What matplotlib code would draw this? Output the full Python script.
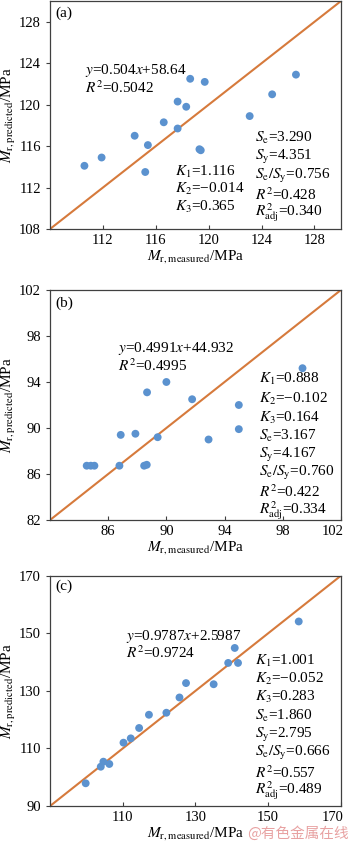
import matplotlib
matplotlib.use('Agg')
import matplotlib.pyplot as plt
from matplotlib.transforms import ScaledTranslation

plt.rcParams['font.family'] = ['Liberation Serif', 'DejaVu Serif']
plt.rcParams['mathtext.fontset'] = 'stix'

# data
a_meas = [110.6, 111.9, 114.4, 115.4, 115.2, 116.6, 117.65, 117.65, 118.3, 118.6, 119.7, 119.3, 119.4, 123.1, 124.8, 126.6]
a_pred = [114.1, 114.9, 117.0, 116.1, 113.5, 118.3, 117.7, 120.3, 119.8, 122.5, 122.2, 115.7, 115.6, 118.9, 121.0, 122.9]

b_meas = [84.52, 84.8, 85.05, 86.77, 86.86, 87.87, 88.47, 88.65, 88.67, 89.4, 90.0, 91.77, 92.9, 94.98, 94.98, 99.36]
b_pred = [86.72, 86.72, 86.72, 86.72, 89.4, 89.5, 86.72, 86.8, 93.1, 89.2, 94.0, 92.5, 89.0, 92.0, 89.9, 95.2]

c_meas = [99.8, 103.95, 104.67, 106.3, 110.2, 112.2, 114.5, 117.2, 122.0, 125.6, 127.4, 135.0, 139.0, 140.8, 141.7, 158.4]
c_pred = [97.9, 103.65, 105.4, 104.6, 112.0, 113.5, 117.1, 121.7, 122.4, 127.7, 132.7, 132.3, 139.7, 144.9, 139.7, 154.1]

a_lims = [108, 130]
b_lims = [82, 102]
c_lims = [90, 170]
a_xticks = [112, 116, 120, 124, 128]
a_yticks = [108, 112, 116, 120, 124, 128]
b_xticks = [86, 90, 94, 98, 102]
b_yticks = [82, 86, 90, 94, 98, 102]
c_xticks = [110, 130, 150, 170]
c_yticks = [90, 110, 130, 150, 170]

a_fit = ['$y$=0.504$x$+58.64', '$R^2$=0.5042']
b_fit = ['$y$=0.4991$x$+44.932', '$R^2$=0.4995']
c_fit = ['$y$=0.9787$x$+2.5987', '$R^2$=0.9724']

a_k = ['$K_1$=1.116', '$K_2$=\u22120.014', '$K_3$=0.365']
a_s = ['$S_{\\mathrm{e}}$=3.290', '$S_{\\mathrm{y}}$=4.351',
       '$S_{\\mathrm{e}}/S_{\\mathrm{y}}$=0.756', '$R^2$=0.428',
       '$R^2_{\\mathrm{adj}}$=0.340']
b_s = ['$K_1$=0.888', '$K_2$=\u22120.102', '$K_3$=0.164',
       '$S_{\\mathrm{e}}$=3.167', '$S_{\\mathrm{y}}$=4.167',
       '$S_{\\mathrm{e}}/S_{\\mathrm{y}}$=0.760', '$R^2$=0.422',
       '$R^2_{\\mathrm{adj}}$=0.334']
c_s = ['$K_1$=1.001', '$K_2$=\u22120.052', '$K_3$=0.283',
       '$S_{\\mathrm{e}}$=1.860', '$S_{\\mathrm{y}}$=2.795',
       '$S_{\\mathrm{e}}/S_{\\mathrm{y}}$=0.666', '$R^2$=0.557',
       '$R^2_{\\mathrm{adj}}$=0.489']

dot_color = '#5b92cf'
line_color = '#d67a3c'
spine_color = '#404040'

fig = plt.figure(figsize=(3.5, 8.44), dpi=100)


def panel(rect, meas, pred, lims, xt, yt, tag, fit, fit_pos, blocks):
    ax = fig.add_axes(rect)
    ax.plot(lims, lims, color=line_color, lw=1.5, zorder=2)
    ax.scatter(meas, pred, s=32, color=dot_color, edgecolors='none', zorder=3)
    ax.set_xlim(lims)
    ax.set_ylim(lims)
    ax.set_xticks(xt)
    ax.set_yticks(yt)
    ax.tick_params(axis='x', direction='in', length=3, labelsize=10.5, colors=spine_color, labelcolor='black')
    ax.tick_params(axis='y', direction='out', length=3, labelsize=10.5, colors=spine_color, labelcolor='black')
    for sp in ax.spines.values():
        sp.set_color(spine_color)
        sp.set_linewidth(0.9)
    # last x tick label sits at the right edge, nudge it left so it stays in the figure
    if xt[-1] == lims[1]:
        fig.canvas.draw()
        lab = ax.get_xticklabels()[-1]
        lab.set_transform(lab.get_transform() + ScaledTranslation(-6 / 72, 0, fig.dpi_scale_trans))
    ax.set_xlabel('$M_{\\mathrm{r,measured}}$/MPa', fontsize=11, labelpad=1)
    ax.set_ylabel('$M_{\\mathrm{r,predicted}}$/MPa', fontsize=11, labelpad=1)
    ax.text(0.017, tag[1], tag[0], transform=ax.transAxes, fontsize=11, va='center')
    ax.text(fit_pos[0], fit_pos[1], fit[0], transform=ax.transAxes, fontsize=11, va='center')
    ax.text(fit_pos[0], fit_pos[2], fit[1], transform=ax.transAxes, fontsize=11, va='center')
    for x0, ys, lines in blocks:
        for y0, s in zip(ys, lines):
            ax.text(x0, y0, s, transform=ax.transAxes, fontsize=11, va='center')
    return ax


panel([0.143, 0.7287, 0.831, 0.270], a_meas, a_pred, a_lims, a_xticks, a_yticks,
      ('(a)', 0.947), a_fit, (0.12, 0.694, 0.621),
      [(0.43, [0.251, 0.174, 0.098], a_k),
       (0.704, [0.398, 0.317, 0.234, 0.152, 0.073], a_s)])

panel([0.143, 0.3839, 0.831, 0.2725], b_meas, b_pred, b_lims, b_xticks, b_yticks,
      ('(b)', 0.942), b_fit, (0.235, 0.746, 0.670),
      [(0.717, [0.613, 0.526, 0.442, 0.365, 0.283, 0.203, 0.122, 0.040], b_s)])

panel([0.143, 0.045, 0.831, 0.2729], c_meas, c_pred, c_lims, c_xticks, c_yticks,
      ('(c)', 0.955), c_fit, (0.261, 0.738, 0.666),
      [(0.704, [0.631, 0.550, 0.472, 0.391, 0.308, 0.229, 0.146, 0.066], c_s)])

fig.text(0.995, 0.012, '@有色金属在线', ha='right', va='center', fontsize=10.5,
         color='#e8a2a2', family=['Noto Sans CJK SC', 'DejaVu Sans'])

fig.savefig('out.png', dpi=100)
